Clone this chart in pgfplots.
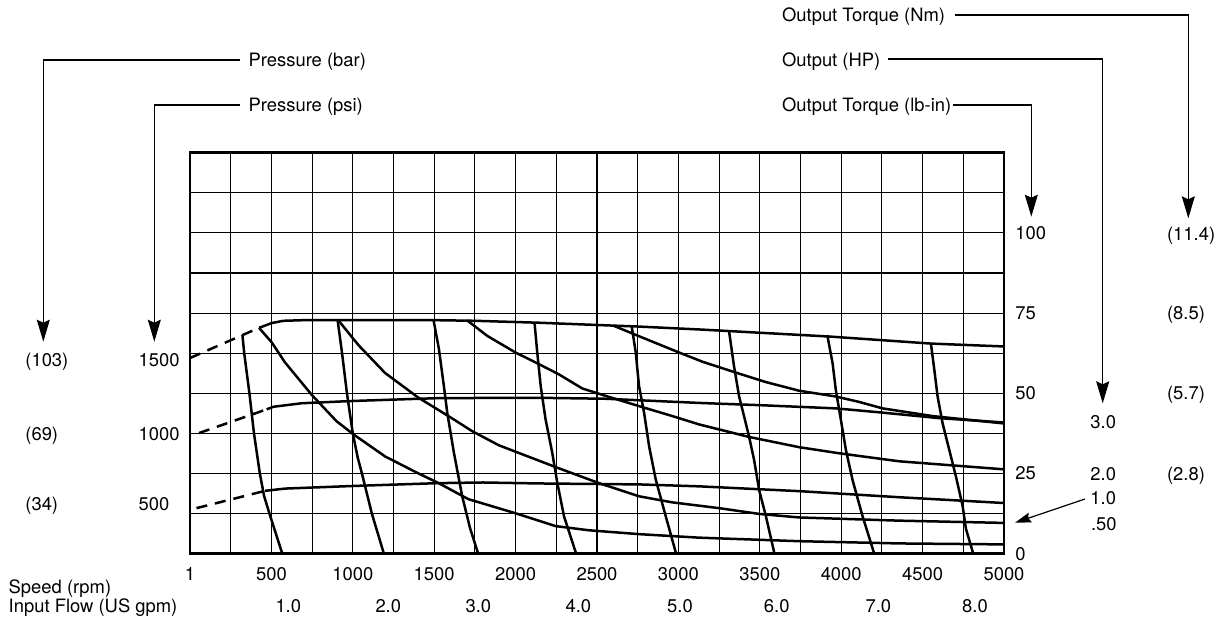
\documentclass[border=0pt]{standalone}
\usepackage{pgfplots}
\pgfplotsset{compat=1.18}
\usepackage{fontspec}
\setmainfont{TeX Gyre Heros}
\usetikzlibrary{arrows.meta}

\begin{document}
\begin{tikzpicture}[font=\fontsize{9.2}{11}\selectfont]
\path[use as bounding box] (0,0) rectangle (612pt,311pt);
\begin{axis}[
  at={(95pt,34.15pt)}, anchor=south west,
  scale only axis, width=407pt, height=200.5pt,
  xmin=0, xmax=5000, ymin=0, ymax=125,
  xtick={0,500,...,5000},
  xticklabels={1,500,1000,1500,2000,2500,3000,3500,4000,4500,5000},
  minor xtick={250,750,...,4750},
  ytick={0,25,50,75,100},
  minor ytick={12.5,37.5,62.5,87.5,112.5},
  yticklabel pos=right,
  grid=both,
  major grid style={black, line width=0.55pt},
  minor grid style={black, line width=0.55pt},
  major tick length=0pt, minor tick length=0pt,
  axis line style={line width=1.4pt},
  /pgf/number format/assume math mode=true,
  xticklabel style={anchor=base, yshift=-13.2pt},
  yticklabel style={anchor=west, inner sep=0pt, xshift=5.5pt},
  cycle list={{black, solid}},
  every axis plot/.append style={line width=1.25pt, black, line join=round, no markers},
]
% pressure curves: dashed extrapolation, then measured line
\addplot[dash pattern=on 5.5pt off 4pt] coordinates {(0,61.0) (424,70.4)};
\addplot coordinates {(424,70.4) (502,71.9) (574,72.6) (700,72.8) (1000,72.8) (1500,72.8) (1750,72.6) (2143,72.0) (2600,71.1) (2758,70.8) (3127,69.9) (3311,69.4) (3926,67.7) (4551,65.5) (5000,64.6)};
\addplot[dash pattern=on 5.5pt off 4pt] coordinates {(55,37.6) (471,45.0)};
\addplot coordinates {(471,45.0) (512,45.8) (686,46.9) (994,47.6) (1529,48.5) (2143,48.6) (2553,48.3) (3127,47.0) (3500,46.3) (3967,45.3) (4250,44.0) (4592,42.3) (5000,40.9)};
\addplot[dash pattern=on 5.5pt off 4pt] coordinates {(40,14.2) (461,19.6)};
\addplot coordinates {(461,19.6) (584,20.3) (994,21.1) (1529,22.0) (1800,22.2) (2143,21.9) (2758,21.6) (3127,21.0) (3742,19.5) (4357,17.6) (5000,15.8)};
% output power curves (.50, 1.0, 2.0, 3.0 HP)
\addplot coordinates {(424,70.4) (500,66) (584,59.6) (748,49.5) (900,41.3) (1004,37.2) (1199,30.3) (1404,25.0) (1527,22.0) (1710,17.0) (2000,12.6) (2246,8.6) (2451,7.3) (2758,6.1) (3127,5.0) (3742,3.9) (4357,3.2) (5000,2.9)};
\addplot coordinates {(912,72.7) (1035,65) (1199,56.3) (1404,48.6) (1600,42.5) (1733,38.2) (1897,33.8) (2246,27.0) (2512,22.0) (2758,17.9) (2963,16.0) (3250,14.2) (3496,12.4) (3742,11.3) (4357,10.3) (5000,9.6)};
\addplot coordinates {(1703,72.7) (1826,67.9) (2000,62.7) (2143,59.1) (2266,55.9) (2410,51.5) (2553,49.2) (2758,46.0) (2963,42.9) (3127,40.3) (3434,36.4) (3742,33.2) (3988,31.3) (4357,28.8) (5000,26.3)};
\addplot coordinates {(2600,71.1) (2758,67.8) (3000,62.8) (3150,59.8) (3350,56.5) (3537,53.5) (3742,50.8) (3967,49.0) (4111,47.3) (4254,45.3) (4561,42.9) (5000,40.6)};
% input flow lines (1.0 ... 8.0 US gpm)
\addplot coordinates {(322,68.2) (333,62.5) (365,50) (393,37.5) (429,25) (455,18) (488,12.5) (567,0)};
\addplot coordinates {(907,72.7) (934,62.5) (964,50) (1000,37.5) (1030,30) (1056,25) (1117,12.5) (1191,0)};
\addplot coordinates {(1496,72.8) (1529,63.8) (1560,52.0) (1580,44.0) (1621,31.5) (1672,17.9) (1720,8.0) (1770,0)};
\addplot coordinates {(2116,72.1) (2133,62.7) (2154,52.3) (2184,41.9) (2225,31.5) (2256,22.1) (2297,11.7) (2372,0)};
\addplot coordinates {(2713,70.9) (2738,62.7) (2758,52.3) (2789,44.0) (2820,33.5) (2861,23.1) (2922,11.7) (2986,0)};
\addplot coordinates {(3311,69.4) (3342,58.3) (3373,49.0) (3404,42.7) (3434,36.5) (3465,29.2) (3496,19.8) (3537,11.8) (3590,0)};
\addplot coordinates {(3916,67.7) (3947,59.4) (3967,51.0) (3998,41.7) (4029,32.3) (4070,22.9) (4131,11.7) (4203,0)};
\addplot coordinates {(4551,65.5) (4572,57.3) (4592,49.0) (4623,40.6) (4664,32.3) (4705,24.0) (4746,14.8) (4766,7.8) (4811,0)};
\end{axis}

% annotations, in a frame measured from the top left corner
\begin{scope}[shift={(0,311pt)}, x=0.5pt, y=-0.5pt,
  lbl/.style={anchor=base west, inner sep=0pt},
  lead/.style={line width=0.6pt},
  tip/.style={-{Stealth[length=11pt, width=6.5pt, inset=1.5pt]}}]
  % scale headings and leaders
  \node[lbl] at (248.3,66.5) {Pressure (bar)};
  \node[lbl] at (248.3,111.5) {Pressure (psi)};
  \draw[lead,tip] (240,60) -- (43.3,60) -- (43.3,341.7);
  \draw[lead,tip] (240,105) -- (154.3,105) -- (154.3,341.7);
  \node[lbl] at (781.7,21.5) {Output Torque (Nm)};
  \node[lbl] at (781.7,66.5) {Output (HP)};
  \node[lbl] at (781.7,111.5) {Output Torque (lb-in)};
  \draw[lead,tip] (955,15) -- (1188.3,15) -- (1188.3,218.3);
  \draw[lead,tip] (888.3,59) -- (1102.7,59) -- (1102.7,403.3);
  \draw[lead,tip] (953.3,105) -- (1031.3,105) -- (1031.3,216.7);
  % pressure values
  \node[lbl] at (25,366) {(103)};
  \node[lbl] at (25,440) {(69)};
  \node[lbl] at (25,510.5) {(34)};
  \node[lbl] at (138.3,366) {1500};
  \node[lbl] at (138.3,440) {1000};
  \node[lbl] at (138.3,510.5) {500};
  % torque in Nm
  \node[lbl] at (1166.7,240) {(11.4)};
  \node[lbl] at (1166.7,319) {(8.5)};
  \node[lbl] at (1166.7,399) {(5.7)};
  \node[lbl] at (1166.7,480) {(2.8)};
  % horsepower
  \node[lbl] at (1090,428) {3.0};
  \node[lbl] at (1090,480) {2.0};
  \node[lbl] at (1090,504) {1.0};
  \node[lbl] at (1090.7,530) {.50};
  \draw[lead,-{Stealth[length=8pt, width=5pt, inset=1pt]}] (1085,499) -- (1015,522.7);
  % bottom scales
  \node[lbl] at (8.3,593) {Speed (rpm)};
  \node[lbl] at (8.3,612.5) {Input Flow (US gpm)};
  \foreach \xp/\t in {288.3/1.0, 388.3/2.0, 478.3/3.0, 578.3/4.0, 680/5.0, 776.7/6.0, 878.3/7.0, 975/8.0}
    \node[anchor=base, inner sep=0pt] at (\xp,612.5) {\t};
\end{scope}
\end{tikzpicture}
\end{document}
